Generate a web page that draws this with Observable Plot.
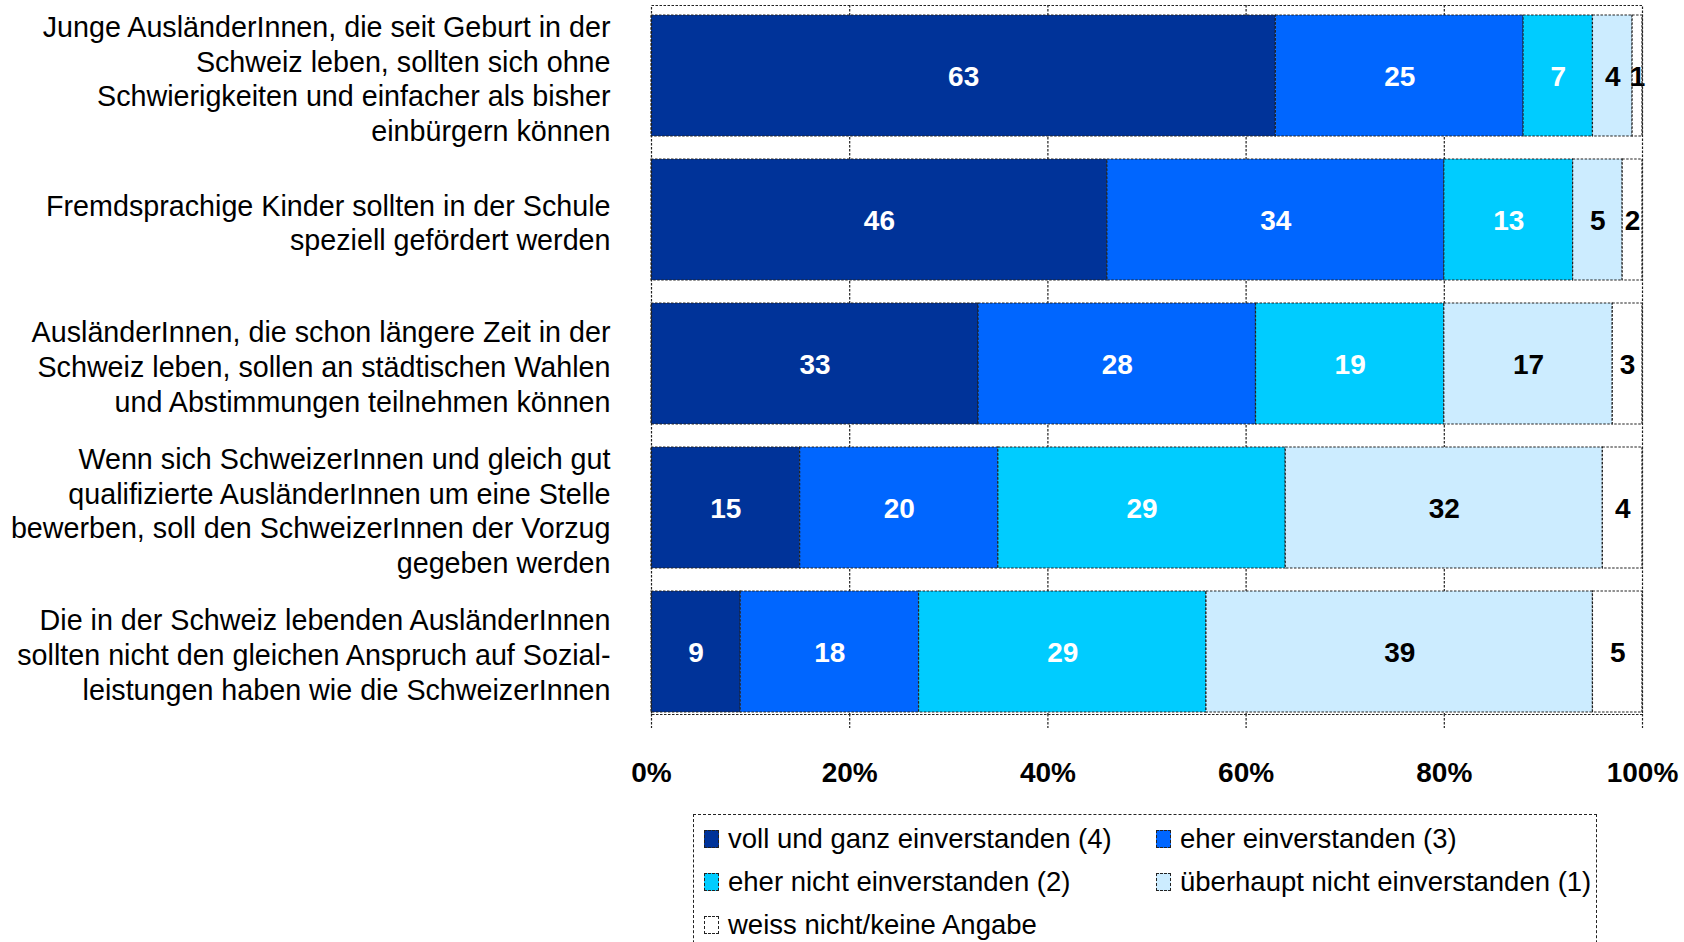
<!DOCTYPE html>
<html>
<head>
<meta charset="utf-8">
<script src="https://cdn.jsdelivr.net/npm/d3@7"></script>
<script src="https://cdn.jsdelivr.net/npm/@observablehq/plot@0.6"></script>
<style>
  html, body { margin: 0; padding: 0; background: #fff; overflow: hidden; width: 1684px; height: 942px; }
  #wrap { position: relative; width: 1684px; height: 942px; font-family: "Liberation Sans", Arial, sans-serif; }
  #legend { position: absolute; left: 693px; top: 814px; width: 904px; height: 200px;
    border: 1.5px dashed #222; box-sizing: border-box; }
  .item { position: absolute; display: flex; align-items: center; font-size: 27.5px; color: #000; white-space: nowrap; height: 43px; }
  .sw { width: 15px; height: 18px; border: 1.5px dashed #222; box-sizing: border-box; margin-right: 9px; flex: none; }
</style>
</head>
<body>
<div id="wrap"><div id="chart"></div><div id="legend"></div></div>
<script>
const questions = [
  "Junge AusländerInnen, die seit Geburt in der\nSchweiz leben, sollten sich ohne\nSchwierigkeiten und einfacher als bisher\neinbürgern können",
  "Fremdsprachige Kinder sollten in der Schule\nspeziell gefördert werden",
  "AusländerInnen, die schon längere Zeit in der\nSchweiz leben, sollen an städtischen Wahlen\nund Abstimmungen teilnehmen können",
  "Wenn sich SchweizerInnen und gleich gut\nqualifizierte AusländerInnen um eine Stelle\nbewerben, soll den SchweizerInnen der Vorzug\ngegeben werden",
  "Die in der Schweiz lebenden AusländerInnen\nsollten nicht den gleichen Anspruch auf Sozial-\nleistungen haben wie die SchweizerInnen"
];
const categories = [
  "voll und ganz einverstanden (4)",
  "eher einverstanden (3)",
  "eher nicht einverstanden (2)",
  "überhaupt nicht einverstanden (1)",
  "weiss nicht/keine Angabe"
];
const colors = ["#003399", "#0066FF", "#00CCFF", "#CCECFF", "#FFFFFF"];
const labelColors = ["white", "white", "white", "black", "black"];
const vollUndGanz = [63, 46, 33, 15, 9];
const eherEinverstanden = [25, 34, 28, 20, 18];
const eherNicht = [7, 13, 19, 29, 29];
const ueberhauptNicht = [4, 5, 17, 32, 39];
const weissNicht = [1, 2, 3, 4, 5];
const xTicks = [0, 20, 40, 60, 80, 100];
const gridTicks = [20, 40, 60, 80];

const series = [vollUndGanz, eherEinverstanden, eherNicht, ueberhauptNicht, weissNicht];
const data = [];
questions.forEach((q, i) => {
  series.forEach((s, j) => {
    data.push({q, cat: categories[j], idx: j, value: s[i]});
  });
});

const dash = "2.5,1.5";
const stroke = "#222";

const chart = Plot.plot({
  width: 1684,
  height: 800,
  marginLeft: 651,
  marginRight: 42,
  marginTop: 5,
  marginBottom: 86,
  style: {fontFamily: "'Liberation Sans', Arial, sans-serif", background: "white"},
  x: {domain: [0, 100], ticks: xTicks},
  y: {domain: questions, range: [15, 714], paddingInner: 0.157, paddingOuter: 0, align: 0},
  color: {domain: categories, range: colors, legend: false},
  marks: [
    Plot.ruleX(gridTicks, {stroke, strokeDasharray: dash, strokeWidth: 1.2}),
    Plot.barX(data, {x: "value", y: "q", fill: "cat", stroke, strokeWidth: 1.2, strokeDasharray: dash, inset: 0}),
    Plot.text(data, Plot.stackX({x: "value", y: "q", text: d => labelColors[d.idx] === "white" ? String(d.value) : "", fill: "white", fontSize: 28, fontWeight: "bold", dy: 1})),
    Plot.text(data, Plot.stackX({x: "value", y: "q", text: d => labelColors[d.idx] === "black" ? String(d.value) : "", fill: "black", fontSize: 28, fontWeight: "bold", dy: 1})),
    Plot.frame({stroke, strokeDasharray: dash, strokeWidth: 1.2}),
    Plot.axisX({ticks: xTicks, tickSize: 14, tickPadding: 34, tickFormat: d => d + "%", fontSize: 28, fontWeight: "bold", stroke, strokeDasharray: dash, strokeWidth: 1.2, label: null, fill: "black"}),
    Plot.axisY({tickSize: 0, tickPadding: 41, fontSize: 28.7, lineHeight: 1.21, dy: 2, label: null, fill: "black"})
  ]
});
document.getElementById("chart").appendChild(chart);

const legend = document.getElementById("legend");
const pos = [[10, 2], [462, 2], [10, 45], [462, 45], [10, 88]];
categories.forEach((c, i) => {
  const it = document.createElement("div");
  it.className = "item";
  it.style.left = pos[i][0] + "px";
  it.style.top = pos[i][1] + "px";
  const sw = document.createElement("span");
  sw.className = "sw";
  sw.style.background = colors[i];
  const tx = document.createElement("span");
  tx.textContent = c;
  it.appendChild(sw);
  it.appendChild(tx);
  legend.appendChild(it);
});
</script>
</body>
</html>
